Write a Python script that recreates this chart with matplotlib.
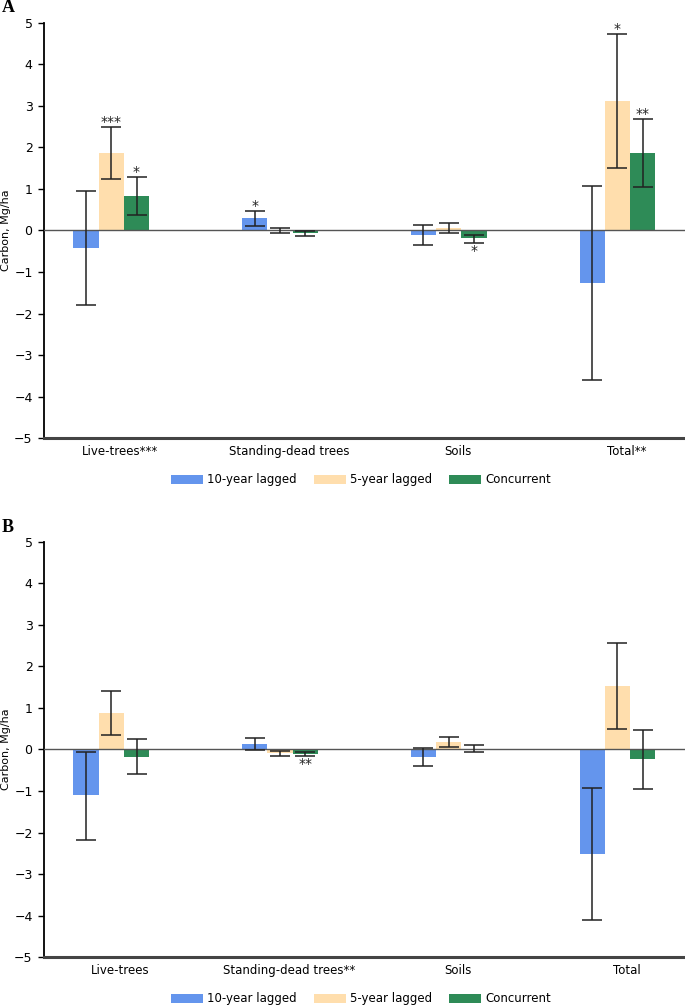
import matplotlib
matplotlib.use("Agg")
import matplotlib.pyplot as plt
import numpy as np

# data (Mg/ha), lo/hi = error bar ends
series = ["10-year lagged", "5-year lagged", "Concurrent"]
colors = ["#6495ED", "#FFDEAD", "#2E8B57"]

cats_A = ["Live-trees***", "Standing-dead trees", "Soils", "Total**"]
lag10_A = [-0.42, 0.30, -0.10, -1.26]
lag10_lo_A = [-1.79, 0.12, -0.35, -3.59]
lag10_hi_A = [0.94, 0.46, 0.13, 1.06]
lag5_A = [1.86, 0.01, 0.06, 3.11]
lag5_lo_A = [1.23, -0.07, -0.06, 1.51]
lag5_hi_A = [2.48, 0.05, 0.19, 4.72]
conc_A = [0.83, -0.07, -0.18, 1.86]
conc_lo_A = [0.38, -0.13, -0.29, 1.04]
conc_hi_A = [1.29, -0.01, -0.10, 2.69]
sig10_A = ["", "*", "", ""]
sig5_A = ["***", "", "", "*"]
sigc_A = ["*", "", "*", "**"]

cats_B = ["Live-trees", "Standing-dead trees**", "Soils", "Total"]
lag10_B = [-1.10, 0.13, -0.18, -2.52]
lag10_lo_B = [-2.17, -0.01, -0.40, -4.11]
lag10_hi_B = [-0.06, 0.27, 0.03, -0.94]
lag5_B = [0.87, -0.09, 0.18, 1.53]
lag5_lo_B = [0.34, -0.16, 0.06, 0.49]
lag5_hi_B = [1.41, -0.03, 0.30, 2.57]
conc_B = [-0.18, -0.10, 0.01, -0.24]
conc_lo_B = [-0.60, -0.15, -0.07, -0.95]
conc_hi_B = [0.24, -0.06, 0.10, 0.47]
sig10_B = ["", "", "", ""]
sig5_B = ["", "", "", ""]
sigc_B = ["", "**", "", ""]

plt.rcParams["font.family"] = "DejaVu Sans"
fig = plt.figure(figsize=(6.85, 10.05), dpi=100)


def panel(rect, letter, cats, vals, los, his, sigs, leg_y):
    ax = fig.add_axes(rect)
    x = np.arange(len(cats))
    w = 0.15
    handles = []
    for k in range(3):
        xs = x + (k - 1) * w
        v = np.array(vals[k])
        err = [v - np.array(los[k]), np.array(his[k]) - v]
        b = ax.bar(xs, v, w, color=colors[k], zorder=2, label=series[k])
        handles.append(b)
        ax.errorbar(xs, v, yerr=err, fmt="none", ecolor="#222222",
                    elinewidth=1.1, capsize=7, capthick=1.1, zorder=4)
        for i, s in enumerate(sigs[k]):
            if not s:
                continue
            if v[i] >= 0:
                ax.annotate(s, (xs[i], his[k][i]), xytext=(0, -1.5),
                            textcoords="offset points", ha="center",
                            va="bottom", fontsize=10, color="#222222")
            else:
                ax.annotate(s, (xs[i], los[k][i]), xytext=(0, -1),
                            textcoords="offset points", ha="center",
                            va="top", fontsize=10, color="#222222")
    ax.axhline(0, color="#555555", lw=1.0, zorder=3)
    ax.set_xlim(-0.4, 3.4)
    ax.set_ylim(-5, 5)
    ax.set_yticks(range(-5, 6))
    ax.set_yticklabels([str(t).replace("-", "\u2212") for t in range(-5, 6)])
    ax.set_xticks(x + 0.055)
    ax.set_xticklabels(cats)
    ax.tick_params(axis="x", length=0, pad=5, labelsize=8.5)
    ax.tick_params(axis="y", length=4, width=1, pad=4, labelsize=9)
    ax.spines["top"].set_visible(False)
    ax.spines["right"].set_visible(False)
    ax.spines["left"].set_linewidth(1.3)
    ax.spines["bottom"].set_linewidth(2.2)
    ax.spines["bottom"].set_color("#444444")
    ax.set_ylabel("Carbon, Mg/ha", fontsize=8)
    ax.yaxis.set_label_coords(-0.0505, 0.5)
    fig.text(0.003, rect[1] + rect[3] + 0.006, letter, family="Liberation Serif",
             fontweight="bold", fontsize=13, va="bottom")
    ax.legend(handles=handles, loc="center", bbox_to_anchor=(0.527, leg_y),
              bbox_transform=fig.transFigure, ncol=3, frameon=False,
              fontsize=8.5, handlelength=2.7, handleheight=0.8,
              handletextpad=0.35, columnspacing=1.45)
    return ax


panel([0.0638, 0.5637, 0.9362, 0.4139], "A", cats_A,
      [lag10_A, lag5_A, conc_A], [lag10_lo_A, lag5_lo_A, conc_lo_A],
      [lag10_hi_A, lag5_hi_A, conc_hi_A], [sig10_A, sig5_A, sigc_A], 0.5224)
panel([0.0638, 0.0476, 0.9362, 0.4134], "B", cats_B,
      [lag10_B, lag5_B, conc_B], [lag10_lo_B, lag5_lo_B, conc_lo_B],
      [lag10_hi_B, lag5_hi_B, conc_hi_B], [sig10_B, sig5_B, sigc_B], 0.006)

fig.savefig("out.png", dpi=100)
